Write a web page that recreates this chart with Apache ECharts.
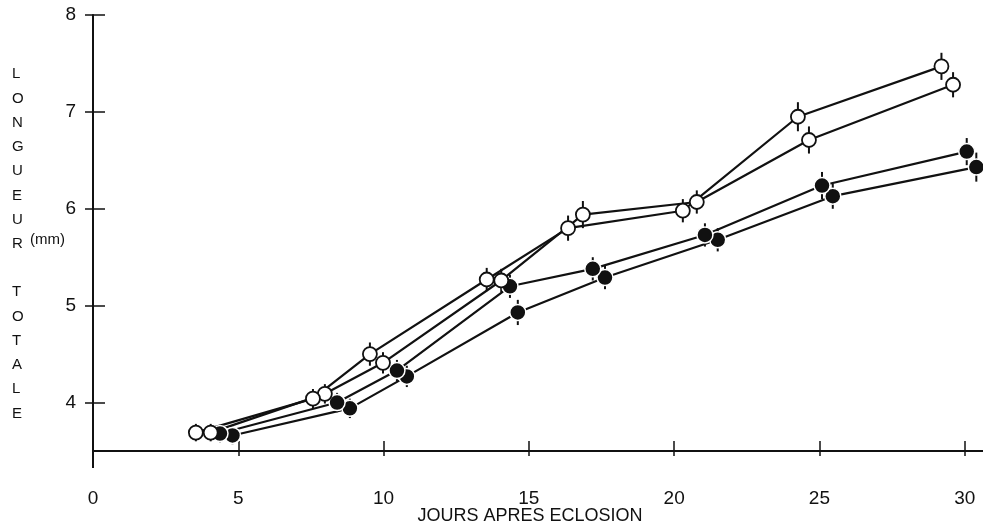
<!DOCTYPE html>
<html>
<head>
<meta charset="utf-8">
<script src="https://cdn.jsdelivr.net/npm/echarts@6/dist/echarts.min.js"></script>
<style>
  html, body { margin: 0; padding: 0; background: #fff; }
  #chart { width: 983px; height: 526px; }
</style>
</head>
<body>
<div id="chart"></div>
<script>
// Total length (mm) against days after hatching, four groups.
// Each group is plotted at a small day offset so the markers do not hide each other.
const xTicks = [0, 5, 10, 15, 20, 25, 30];
const yTicks = [4, 5, 6, 7, 8];

const openADays = [3.54, 7.57, 9.53, 13.55, 16.35, 20.30, 24.26, 29.20];
const openALen  = [3.69, 4.04, 4.50, 5.27, 5.80, 5.98, 6.95, 7.47];
const openAErr  = [0.09, 0.10, 0.12, 0.12, 0.13, 0.12, 0.15, 0.14];

const openBDays = [4.05, 7.98, 9.98, 14.05, 16.86, 20.78, 24.64, 29.60];
const openBLen  = [3.69, 4.09, 4.41, 5.26, 5.94, 6.07, 6.71, 7.28];
const openBErr  = [0.09, 0.10, 0.11, 0.12, 0.14, 0.12, 0.14, 0.13];

const fullADays = [4.37, 8.40, 10.46, 14.35, 17.20, 21.06, 25.09, 30.07];
const fullALen  = [3.68, 4.00, 4.33, 5.20, 5.38, 5.73, 6.24, 6.59];
const fullAErr  = [0.09, 0.10, 0.11, 0.12, 0.12, 0.12, 0.14, 0.14];

const fullBDays = [4.80, 8.84, 10.80, 14.62, 17.62, 21.50, 25.46, 30.40];
const fullBLen  = [3.66, 3.94, 4.27, 4.93, 5.29, 5.68, 6.13, 6.43];
const fullBErr  = [0.09, 0.10, 0.11, 0.13, 0.12, 0.12, 0.13, 0.15];

const groups = [
  { days: openADays, len: openALen, err: openAErr, filled: false, z: 9 },
  { days: openBDays, len: openBLen, err: openBErr, filled: false, z: 8 },
  { days: fullADays, len: fullALen, err: fullAErr, filled: true,  z: 7 },
  { days: fullBDays, len: fullBLen, err: fullBErr, filled: true,  z: 6 }
];

const pairs = g => g.days.map((d, i) => [d, g.len[i]]);
const INK = '#111';
const FONT = '"Liberation Sans", Arial, sans-serif';

const series = [];
// connecting lines underneath everything
groups.forEach(g => {
  series.push({
    type: 'line', data: pairs(g), showSymbol: false, z: 2, silent: true,
    lineStyle: { color: INK, width: 2.2 }
  });
});
// vertical error bars
groups.forEach(g => {
  series.push({
    type: 'custom', z: 3, silent: true,
    data: g.days.map((d, i) => [d, g.len[i], g.err[i]]),
    renderItem: (params, api) => {
      const top = api.coord([api.value(0), api.value(1) + api.value(2)]);
      const bot = api.coord([api.value(0), api.value(1) - api.value(2)]);
      return {
        type: 'line',
        shape: { x1: top[0], y1: top[1], x2: bot[0], y2: bot[1] },
        style: { stroke: INK, lineWidth: 2 }
      };
    }
  });
});
// markers, left-most group on top
groups.forEach(g => {
  series.push({
    type: 'scatter', data: pairs(g), z: g.z, silent: true,
    symbol: 'circle', symbolSize: g.filled ? 16 : 14,
    itemStyle: g.filled
      ? { color: INK, borderColor: '#fff', borderWidth: 1.5, opacity: 1 }
      : { color: '#fff', borderColor: INK, borderWidth: 1.8, opacity: 1 }
  });
});
series.forEach(s => { s.xAxisIndex = 0; s.yAxisIndex = 0; });

const axisLine = { show: true, lineStyle: { color: INK, width: 2 } };

const option = {
  animation: false,
  backgroundColor: '#fff',
  grid: { left: 93, right: 0, top: 15, bottom: 75, containLabel: false },
  xAxis: [
    {
      type: 'value', min: 0, max: 30.63, position: 'bottom',
      axisLine: axisLine,
      axisTick: { show: true, inside: true, length: 10, customValues: xTicks,
                  lineStyle: { color: INK, width: 1.5 } },
      axisLabel: { customValues: xTicks, margin: 38, color: INK, fontSize: 19,
                   fontFamily: FONT },
      splitLine: { show: false }
    },
    {
      // outward half of the crossing tick marks
      type: 'value', min: 0, max: 30.63, position: 'bottom',
      axisLine: { show: false },
      axisTick: { show: true, inside: false, length: 5, customValues: xTicks,
                  lineStyle: { color: INK, width: 1.5 } },
      axisLabel: { show: false },
      splitLine: { show: false }
    }
  ],
  yAxis: [
    {
      type: 'value', min: 3.5, max: 8, position: 'left',
      axisLine: axisLine,
      axisTick: { show: true, inside: false, length: 8, customValues: yTicks,
                  lineStyle: { color: INK, width: 1.5 } },
      axisLabel: { customValues: yTicks, margin: 17, color: INK, fontSize: 19,
                   fontFamily: FONT },
      splitLine: { show: false }
    },
    {
      // inward half of the crossing tick marks
      type: 'value', min: 3.5, max: 8, position: 'left',
      axisLine: { show: false },
      axisTick: { show: true, inside: true, length: 12, customValues: yTicks,
                  lineStyle: { color: INK, width: 1.5 } },
      axisLabel: { show: false },
      splitLine: { show: false }
    }
  ],
  graphic: [
    // vertical axis continues below the horizontal axis
    { type: 'line', z: 10, shape: { x1: 93, y1: 450, x2: 93, y2: 468 },
      style: { stroke: INK, lineWidth: 2 } },
    { type: 'text', z: 10, x: 530, y: 507,
      style: { text: 'JOURS APRES ECLOSION', fill: INK, font: '18px ' + FONT,
               align: 'center' } },
    { type: 'text', z: 10, x: 12, y: 62,
      style: { text: 'L\nO\nN\nG\nU\nE\nU\nR', fill: INK, font: '15px ' + FONT,
               lineHeight: 24.3 } },
    { type: 'text', z: 10, x: 30, y: 232,
      style: { text: '(mm)', fill: INK, font: '15px ' + FONT } },
    { type: 'text', z: 10, x: 12, y: 280,
      style: { text: 'T\nO\nT\nA\nL\nE', fill: INK, font: '15px ' + FONT,
               lineHeight: 24.3 } }
  ],
  series: series
};

const chart = echarts.init(document.getElementById('chart'), null, { renderer: 'canvas' });
chart.setOption(option);
</script>
</body>
</html>
